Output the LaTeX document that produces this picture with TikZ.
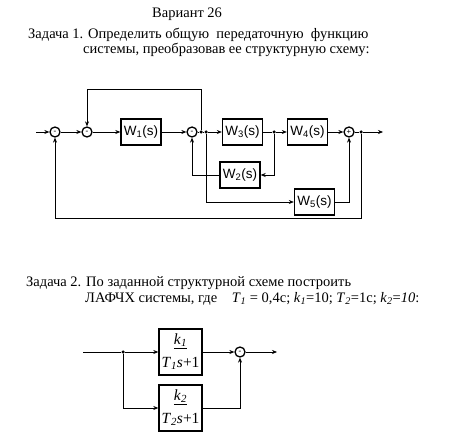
\documentclass[tikz,border=0pt]{standalone}
\usepackage{fontspec}
\setmainfont{Liberation Serif}
\newfontfamily\blockfont{Liberation Sans}
\usetikzlibrary{arrows.meta, positioning, calc}
\tikzstyle{block} = [rectangle, draw, line width=1.4pt, minimum width=40pt, minimum height=26pt, inner sep=0pt, font=\blockfont\fontsize{13.5}{13.5}\selectfont]
\tikzstyle{fblock} = [rectangle, draw, line width=1.4pt, minimum width=43pt, minimum height=46pt, inner sep=0pt, align=center, font=\fontsize{15.5}{23}\selectfont]
\tikzstyle{sum} = [circle, draw, line width=1.3pt, minimum size=10pt, inner sep=0pt, font=\bfseries\fontsize{8}{8}\selectfont]
\tikzstyle{junction} = [circle, fill, minimum size=3.5pt, inner sep=0pt]
\tikzstyle{task} = [anchor=base west, inner sep=0pt, font=\fontsize{14.5}{16}\selectfont]
\tikzstyle{line} = [line width=0.6pt]
\tikzstyle{arrow} = [-{Stealth[length=5pt, width=4pt]}, line width=0.6pt]

\begin{document}
\begin{tikzpicture}[x=1pt, y=-1pt]
    \useasboundingbox (0,0) rectangle (449,435);

    % Headings
    \node[task] (title) at (152,18) {Вариант 26};
    \node[task] (task1a) at (28,39) {Задача 1. Определить общую\ \ передаточную\ \ функцию};
    \node[task] (task1b) at (83,54) {системы, преобразовав ее структурную схему:};

    % Scheme 1
    \coordinate (in) at (36,132);
    \node[sum] (s1) at (55,132) {-};
    \node[sum] (s2) at (87,132) {-};
    \node[block] (w1) at (141,132) {W\textsubscript{1}(s)};
    \node[sum] (s3) at (192,132) {-};
    \node[junction] (da) at (201,132) {};
    \node[junction] (db) at (206,132) {};
    \node[block] (w3) at (242.5,132) {W\textsubscript{3}(s)};
    \node[junction] (dc) at (274,132) {};
    \node[block] (w4) at (307.5,132) {W\textsubscript{4}(s)};
    \node[sum] (s4) at (349,132) {+};
    \node[junction] (dout) at (361,132) {};
    \coordinate (out) at (383,132);
    \node[block] (w2) at (240,175) {W\textsubscript{2}(s)};
    \node[block] (w5) at (314.5,202) {W\textsubscript{5}(s)};

    % Arrows
    \draw[arrow] (in) -- (s1);
    \draw[arrow] (s1) -- (s2);
    \draw[arrow] (s2) -- (w1);
    \draw[arrow] (w1) -- (s3);
    \draw[line] (s3) -- (da);
    \draw[line] (da) -- (db);
    \draw[arrow] (db) -- (w3);
    \draw[arrow] (da) -- ++(0,-43) -| (s2);
    \draw[line] (w3) -- (dc);
    \draw[arrow] (dc) -- (w4);
    \draw[arrow] (dc) |- (w2);
    \draw[arrow] (w2) -| (s3);
    \draw[arrow] (db) |- (w5);
    \draw[arrow] (w5) -| (s4);
    \draw[arrow] (w4) -- (s4);
    \draw[line] (s4) -- (dout);
    \draw[arrow] (dout) -- (out);
    \draw[arrow] (dout) -- ++(0,86) -| (s1);

    % Task 2
    \node[task] (task2a) at (26,287) {Задача 2. По заданной структурной схеме построить};
    \node[task] (task2b) at (85,302) {ЛАФЧХ системы, где\quad \textit{T}\textsubscript{\textit{1}} = 0,4с; \textit{k}\textsubscript{\textit{1}}=10; \textit{T}\textsubscript{\textit{2}}=1с; \textit{k}\textsubscript{\textit{2}}=\textit{10}:};

    % Scheme 2
    \coordinate (in2) at (83,352);
    \node[junction] (d2) at (123,352) {};
    \node[fblock] (f1) at (180.5,352) {\underline{\textit{k}\textsubscript{\textit{1}}}\\\textit{T}\textsubscript{\textit{1}}\textit{s}+1};
    \node[fblock] (f2) at (180.5,408) {\underline{\textit{k}\textsubscript{\textit{2}}}\\\textit{T}\textsubscript{\textit{2}}\textit{s}+1};
    \node[sum] (s5) at (240,352) {-};
    \coordinate (out2) at (277,352);

    \draw[line] (in2) -- (d2);
    \draw[arrow] (d2) -- (f1);
    \draw[arrow] (d2) |- (f2);
    \draw[arrow] (f1) -- (s5);
    \draw[arrow] (f2) -| (s5);
    \draw[arrow] (s5) -- (out2);
\end{tikzpicture}
\end{document}
